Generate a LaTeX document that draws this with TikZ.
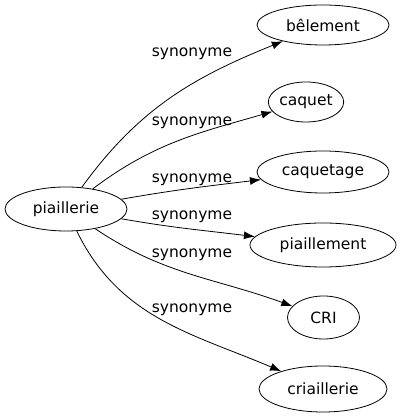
\documentclass[tikz,border=0pt]{standalone}
\usepackage{fontspec}
\setmainfont{DejaVu Sans}
\usetikzlibrary{shapes,arrows.meta}

\begin{document}
\begin{tikzpicture}[
  x=1pt,
  y=1pt
]

  \tikzstyle{wordnode}=[draw,ellipse,line width=0.8pt,inner sep=0pt,font=\fontsize{15.5}{18}\selectfont]
  \tikzstyle{ptrlab}=[font=\fontsize{15.5}{18}\selectfont]
  \tikzstyle{pointer}=[draw,line width=0.8pt,-{Latex[length=11pt,width=8pt]}]

  \useasboundingbox (0,0) rectangle (402,419);

  % nodes
  \node[wordnode,minimum width=122pt,minimum height=44pt] (pia)  at (66,210)  {piaillerie};
  \node[wordnode,minimum width=132pt,minimum height=40pt] (bel)  at (323,394) {bêlement};
  \node[wordnode,minimum width=62pt,minimum height=40pt]  (caq)  at (306,317) {caquet};
  \node[wordnode,minimum width=132pt,minimum height=42pt] (caqt) at (323,247) {caquetage};
  \node[wordnode,minimum width=146pt,minimum height=44pt] (piam) at (323,174) {piaillement};
  \node[wordnode,minimum width=72pt,minimum height=43pt]  (cri)  at (323.5,101.5) {CRI};
  \node[wordnode,minimum width=128pt,minimum height=46pt] (cria) at (323,30)  {criaillerie};

  % labels
  \node[ptrlab] (lab1) at (192,365) {synonyme};
  \node[ptrlab] (lab2) at (192,296) {synonyme};
  \node[ptrlab] (lab3) at (192,239) {synonyme};
  \node[ptrlab] (lab4) at (192,202) {synonyme};
  \node[ptrlab] (lab5) at (192,164) {synonyme};
  \node[ptrlab] (lab6) at (192,109) {synonyme};

  % pointers
  \draw[pointer] (pia) to[out=54,in=202]  (bel);
  \draw[pointer] (pia) to[out=37,in=196]  (caq);
  \draw[pointer] (pia) to[out=10,in=187]  (caqt);
  \draw[pointer] (pia) to[out=-10,in=173] (piam);
  \draw[pointer] (pia) to[out=-34,in=160] (cri);
  \draw[pointer] (pia) to[out=-64,in=157] (cria);

\end{tikzpicture}
\end{document}
